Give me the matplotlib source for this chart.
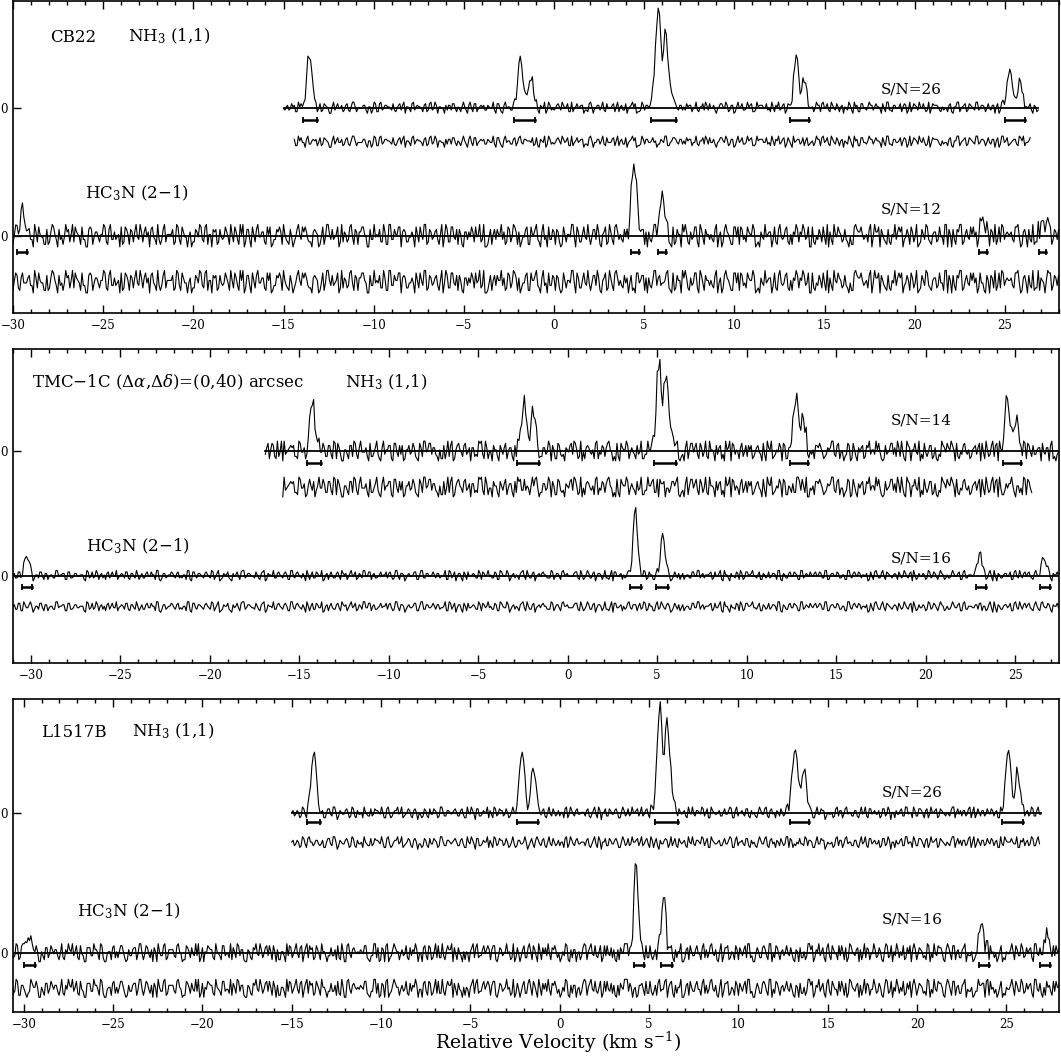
import numpy as np
import matplotlib.pyplot as plt
from matplotlib.ticker import MultipleLocator

plt.rcParams['font.family'] = ['DejaVu Serif']
plt.rcParams['mathtext.fontset'] = 'dejavuserif'

DV = 0.075   # channel width used for the traced spectra (km/s)

# ---------------- data ----------------
source_names = ['CB22', r'TMC$-$1C ($\Delta\alpha$,$\Delta\delta$)=(0,40) arcsec', 'L1517B']
nh3_name = r'NH$_3$ (1,1)'
hc3n_name = r'HC$_3$N (2$-$1)'
nh3_snr = [26, 14, 26]
hc3n_snr = [12, 16, 16]

# noise traces, hand traced: one digit per channel (0..9 around 4.5);
# "a" holds the even channels, "b" the odd ones.
# residual = spectrum minus fit, so it carries the same noise
cb22_nh3_noise_a = ("45376254183664275153742635824461537284653347615285"
                    "54627381546637245518274663543741853627465573264183"
                    "36584722546137546382447526315872366454135824763657"
                    "62435783461574636285345728664325684735146375242867"
                    "47263551483862745637514832647563275844317652346258"
                    "25736483654461738524638524715357426638483165427536")
cb22_nh3_noise_b = ("36452874635527364185463728544635182736547263854736"
                    "52738465413674528364725536481726453748365427158364"
                    "47365284756328146537462853746512836475364825746335"
                    "64825367434758261547386235647482536173856427354628"
                    "53847265361527438655472836452718463572846635427158"
                    "46275384627365184735627845362753481625734658236475")
cb22_hc3n_noise_a = ("57182644739254116837446298513077462581933582716649"
                     "28674133955728164402693815772446158399270574628813"
                     "66931427588326604195748225391668507344291937586624"
                     "48259173635092847716346852904177531829662481573094"
                     "83672155490628344791582619337641085766293745918250"
                     "66138294755294076318883265710495632744811576938024"
                     "72496158533018765429468731259660458291738256341970"
                     "37915488624170693285562841703929645817340853726619")
cb22_hc3n_noise_b = ("29571846306841729503197526483081645927364018572936"
                     "64083917255193840627482950617384926150738294615037"
                     "81527049366207518493350962847168403957261935807246"
                     "05839264719472831506682493017535962748104718592630"
                     "37160825948254917360619386524072847103596348201759"
                     "92648071533706295184174859026346081937256925740813"
                     "58103946272419683570960527143883716402593162849057"
                     "16927354084057218936538906472121509836748074391625")
tmc_nh3_noise_a = ("38571299466218405573946271883051793644282630957184"
                   "77153820694836251197058473662283914750561627983345"
                   "59026477183364895201745813669428065744139135728860"
                   "44771209586382915476105983462777264039513468152297"
                   "82045766135937142808266179535407483269196583014472"
                   "13968570247452638815397041669252188473604609235178")
tmc_nh3_noise_b = ("61829403577294618305482739160537281946024916357082"
                   "30574618295863017429175284063991640527384602738519"
                   "84263905172057381946631947285002859163741395820674"
                   "27590361848164295037396075184251473806925807146293"
                   "59031784266928403715047263598113586924070549382716"
                   "02746958138315760492728913465054917235683671049825")
tmc_hc3n_noise_a = ("46537284653574625384562736455174382656374255736482"
                    "63745281635746335827465374826135726547846435271658"
                    "37465283746155374826543726648526384753475764382615"
                    "45728364556348275163724553674853627481534682537466"
                    "53374628544672538361654328745237466538275284637145"
                    "64253748365573462851436827564372543658263647528457"
                    "47563826473528465735624753826455738461534628374562"
                    "53846273554672538146356527483764283754615736482545")
tmc_hc3n_noise_b = ("54637264815372645385627346452837465327548463726354"
                    "36475823645637452817364653748265314728365473682543"
                    "65372846534827364152736485264735847263545372846536"
                    "47258364736452837461574638265437285463652748361547"
                    "53826475644738256374628351746548362747352638465273"
                    "26453748535627481536472637584526374628153746283645"
                    "64738256463528374654172836475362546378264537462853"
                    "35647283546375264815364728356473652847365426374856")
l1517_nh3_noise_a = ("53628475364425738164653724584337645282564835627143"
                     "62475383655736425847345862746372543648154663728354"
                     "35728464556348265736472564385753648271466437255384"
                     "46583726453546728563724356482756354872344376528461"
                     "54273648536354827546374652463845837627456275346854"
                     "36485273645736248555426753836463457268475473628356")
l1517_nh3_noise_b = ("64537285463627485354728364253746582743685247365427"
                     "37462853646537284617365248376453826455372846354736"
                     "52846374537264815374652837456384726536472853746258"
                     "36475285463748263547365284736425738264574836254763"
                     "45386274536285374642738156473852637462857364538276"
                     "63728456374652836574825364738456273648352746583647")
l1517_hc3n_noise_a = ("47381622958051746634269538140773649205185582136749"
                      "18467053926629418573307586294184215936062793648815"
                      "61503749284987261533731290846556481392070926754381"
                      "35640817298235697140145972386668073541924382916057"
                      "79165423802641785933508832167493540671281673495802"
                      "50278364196493150782481562930727619484538340572196"
                      "06952738413572846019714635092859231786646218493750"
                      "94816270351367098542825491637347093258613596184207")
l1517_hc3n_noise_b = ("82916403755037284619146952830739618045722850637194"
                      "47205938166385017249920476153834972861051649273580"
                      "15398264707261849503368150927445820397168039516427"
                      "69047381522918604735507293648181364952070627583914"
                      "34782059166053917482823476015997051648233194807265"
                      "90615384722846093715167389204528390271654716025398"
                      "25370916488109537642649271583036582409175390248716"
                      "71852694303967814205014658392762947015388526149037")

# noise level of each trace
cb22_nh3_rms, cb22_hc3n_rms = 1.6, 2.5
tmc_nh3_rms, tmc_hc3n_rms = 2.2, 1.5
l1517_nh3_rms, l1517_hc3n_rms = 1.8, 2.0

# velocity extent of spectra and of residuals (km/s)
cb22_nh3_span, cb22_nh3_res = (-15.0, 26.85), (-14.45, 26.4)
cb22_hc3n_span, cb22_hc3n_res = (-30.3, 28.2), (-30.3, 28.2)
tmc_nh3_span, tmc_nh3_res = (-16.9, 27.8), (-15.95, 25.98)
tmc_hc3n_span, tmc_hc3n_res = (-31.3, 27.65), (-31.3, 27.65)
l1517_nh3_span, l1517_nh3_res = (-15.0, 26.95), (-15.0, 26.9)
l1517_hc3n_span, l1517_hc3n_res = (-30.8, 28.0), (-30.8, 28.0)

# line groups: (velocity of first channel, channel intensities)
cb22_nh3_lines = [(-13.95, [2, 6, 14, 28, 46, 52, 50, 34, 18, 8, 3]),
                  (-2.25, [2, 5, 12, 26, 40, 46, 44, 30, 16, 12, 12, 18, 26, 28, 27, 18, 9, 4, 2]),
                  (5.25, [1, 3, 8, 18, 34, 62, 88, 102, 96, 66, 46, 58, 73, 68, 55, 40, 24, 14, 7, 3, 1]),
                  (13.05, [2, 5, 12, 26, 42, 52, 46, 28, 16, 18, 26, 29, 24, 14, 6, 2, 1]),
                  (24.9, [2, 4, 10, 22, 36, 41, 34, 20, 10, 8, 12, 20, 24, 22, 15, 8, 4, 2, 1])]
cb22_hc3n_lines = [(-29.85, [2, 4, 8, 15, 22, 24, 20, 12, 6, 2, 1]),
                   (4.05, [3, 8, 20, 44, 68, 78, 72, 46, 22, 8, 3]),
                   (5.7, [3, 8, 18, 36, 46, 36, 18, 7, 2]),
                   (23.55, [4, 9, 16, 20, 20, 14, 8, 3, 1]),
                   (26.85, [3, 6, 10, 14, 16, 15, 12, 7, 4])]
tmc_nh3_lines = [(-14.65, [2, 5, 12, 26, 42, 49, 46, 32, 18, 8, 3]),
                 (-2.8, [2, 5, 14, 30, 44, 48, 40, 26, 16, 18, 28, 35, 33, 24, 14, 6, 3]),
                 (4.7, [3, 8, 20, 44, 72, 91, 84, 56, 42, 62, 80, 76, 62, 42, 25, 14, 8, 4, 2]),
                 (12.35, [2, 5, 14, 30, 46, 53, 48, 32, 20, 24, 30, 31, 24, 14, 7, 3, 1]),
                 (24.2, [3, 8, 20, 38, 52, 53, 36, 22, 14, 18, 28, 36, 35, 24, 14, 6, 3])]
tmc_hc3n_lines = [(-30.55, [2, 4, 8, 15, 20, 17, 12, 6, 3]),
                  (3.5, [5, 16, 40, 60, 66, 48, 24, 9, 3]),
                  (5.0, [2, 6, 16, 30, 40, 36, 22, 10, 4]),
                  (22.7, [2, 4, 9, 15, 19, 20, 14, 8, 4]),
                  (26.3, [2, 4, 8, 13, 16, 15, 10, 6, 3])]
l1517_nh3_lines = [(-14.1, [4, 12, 26, 46, 60, 62, 44, 26, 10, 4, 2]),
                   (-2.55, [2, 4, 10, 22, 40, 56, 62, 52, 32, 16, 10, 12, 20, 36, 46, 44, 30, 14, 6, 3, 1]),
                   (5.1, [2, 4, 8, 20, 44, 78, 104, 109, 90, 60, 56, 80, 93, 84, 60, 40, 24, 13, 7, 4, 2]),
                   (12.75, [3, 7, 16, 34, 52, 62, 66, 54, 36, 24, 26, 38, 44, 38, 26, 14, 6, 3, 1]),
                   (24.75, [3, 9, 22, 42, 58, 62, 52, 32, 16, 16, 26, 40, 43, 32, 18, 8, 4])]
l1517_hc3n_lines = [(-30.2, [2, 3, 6, 10, 16, 19, 20, 15, 8, 4, 2]),
                    (4.0, [6, 24, 60, 88, 96, 64, 30, 10, 4]),
                    (5.5, [3, 9, 22, 44, 56, 48, 30, 12, 5]),
                    (23.35, [4, 10, 18, 25, 24, 16, 10, 5, 3]),
                    (26.95, [3, 7, 12, 17, 18, 14, 10, 5, 3])]

# velocity windows marked under the lines
cb22_nh3_bars = [(-13.92, -13.13), (-2.23, -1.04), (5.40, 6.74), (13.07, 14.16), (24.98, 26.14)]
cb22_hc3n_bars = [(-29.8, -29.2), (4.26, 4.69), (5.76, 6.22), (23.58, 23.99), (26.9, 27.3)]
tmc_nh3_bars = [(-14.55, -13.8), (-2.83, -1.63), (4.8, 6.03), (12.4, 13.4), (24.3, 25.35)]
tmc_hc3n_bars = [(-30.5, -29.94), (3.46, 4.07), (4.94, 5.58), (22.82, 23.36), (26.39, 26.93)]
l1517_nh3_bars = [(-14.14, -13.41), (-2.39, -1.2), (5.34, 6.61), (12.86, 13.95), (24.77, 25.95)]
l1517_hc3n_bars = [(-29.97, -29.37), (4.13, 4.74), (5.69, 6.29), (23.45, 24.05), (26.9, 27.46)]


def merge(a, b):
    return ''.join(x + y for x, y in zip(a, b))


nh3_sets = [
    (cb22_nh3_span, cb22_nh3_res, merge(cb22_nh3_noise_a, cb22_nh3_noise_b),
     cb22_nh3_rms, cb22_nh3_lines, cb22_nh3_bars),
    (tmc_nh3_span, tmc_nh3_res, merge(tmc_nh3_noise_a, tmc_nh3_noise_b),
     tmc_nh3_rms, tmc_nh3_lines, tmc_nh3_bars),
    (l1517_nh3_span, l1517_nh3_res, merge(l1517_nh3_noise_a, l1517_nh3_noise_b),
     l1517_nh3_rms, l1517_nh3_lines, l1517_nh3_bars),
]
hc3n_sets = [
    (cb22_hc3n_span, cb22_hc3n_res, merge(cb22_hc3n_noise_a, cb22_hc3n_noise_b),
     cb22_hc3n_rms, cb22_hc3n_lines, cb22_hc3n_bars),
    (tmc_hc3n_span, tmc_hc3n_res, merge(tmc_hc3n_noise_a, tmc_hc3n_noise_b),
     tmc_hc3n_rms, tmc_hc3n_lines, tmc_hc3n_bars),
    (l1517_hc3n_span, l1517_hc3n_res, merge(l1517_hc3n_noise_a, l1517_hc3n_noise_b),
     l1517_hc3n_rms, l1517_hc3n_lines, l1517_hc3n_bars),
]

# ---------------- layout ----------------
W, H = 1061, 1057
ax_top = [1, 349, 699]
ax_bot = [313, 663, 1012]
xlims = [(-30.0, 28.0), (-31.0, 27.45), (-30.6, 27.94)]
ylims = [(-205.3, 106.7), (-212.0, 102.0), (-198.7, 114.3)]
# offsets: nh3 residual, hc3n baseline, hc3n residual
offsets = [(-34, -128, -174), (-36, -124.7, -156), (-29.7, -139.4, -175)]
bar_off = [(-12, -16), (-12.3, -11), (-9, -12.3)]
# text positions (axes fraction, baseline)
src_pos = [(0.0354, 0.8696), (0.0182, 0.878), (0.0264, 0.8796)]
nh3_pos = [(0.1097, 0.8696), (0.3172, 0.878), (0.1136, 0.8796)]
hc3n_pos = [(0.0688, 0.3676), (0.070, 0.3545), (0.0613, 0.3046)]
snr1_pos = [(0.8293, 0.7029), (0.839, 0.760), (0.8303, 0.688)]
snr2_pos = [(0.8293, 0.3196), (0.839, 0.3194), (0.8303, 0.2834)]


def build(span, noise, rms, lines):
    v0, v1 = span
    n = min(int(round((v1 - v0) / DV)) + 1, len(noise))
    v = v0 + DV * np.arange(n)
    resid = (np.array([int(c) for c in noise[:n]]) - 4.5) * rms
    spec = resid.copy()
    for start, prof in lines:
        i = int(round((start - v0) / DV))
        spec[i:i + len(prof)] += np.array(prof, dtype=float)
    return v, spec, resid


def draw(ax, data, base, rbase, boff):
    span, res, noise, rms, lines, bars = data
    v, spec, resid = build(span, noise, rms, lines)
    ax.plot(v, spec + base, color='k', lw=0.8)
    ax.plot([v[0], v[-1]], [base, base], color='k', lw=1.3)
    m = (v >= res[0] - 1e-6) & (v <= res[1] + 1e-6)
    ax.plot(v[m], resid[m] + rbase, color='k', lw=0.8)
    for a, b in bars:
        ax.plot([a, b], [base + boff] * 2, color='k', lw=1.8,
                marker='|', ms=5, mew=1.3)


fig = plt.figure(figsize=(W / 100, H / 100), dpi=100)
for k in range(3):
    ax = fig.add_axes([13 / W, 1 - ax_bot[k] / H, 1046 / W, (ax_bot[k] - ax_top[k]) / H])
    r_nh3, b_hc3n, r_hc3n = offsets[k]
    draw(ax, nh3_sets[k], 0, r_nh3, bar_off[k][0])
    draw(ax, hc3n_sets[k], b_hc3n, r_hc3n, bar_off[k][1])
    ax.set_xlim(*xlims[k])
    ax.set_ylim(*ylims[k])
    ax.xaxis.set_major_locator(MultipleLocator(5))
    ax.xaxis.set_minor_locator(MultipleLocator(1))
    ax.set_yticks([0, b_hc3n])
    ax.set_yticklabels(['0', '0'])
    ax.tick_params(axis='x', which='both', direction='in', top=True, labelsize=8.5, pad=4, width=1)
    ax.tick_params(axis='x', which='major', length=6)
    ax.tick_params(axis='x', which='minor', length=3)
    ax.tick_params(axis='y', direction='in', length=6, width=1, labelsize=8.5, pad=3.5)
    for s in ax.spines.values():
        s.set_linewidth(1.2)
    tf = ax.transAxes
    ax.text(*src_pos[k], source_names[k], transform=tf, fontsize=12, va='baseline')
    ax.text(*nh3_pos[k], nh3_name, transform=tf, fontsize=12, va='baseline')
    ax.text(*hc3n_pos[k], hc3n_name, transform=tf, fontsize=12, va='baseline')
    ax.text(*snr1_pos[k], f'S/N={nh3_snr[k]}', transform=tf, fontsize=11, va='baseline')
    ax.text(*snr2_pos[k], f'S/N={hc3n_snr[k]}', transform=tf, fontsize=11, va='baseline')

fig.text(435 / W, 1 - 1055 / H, r'Relative Velocity (km s$^{-1}$)', fontsize=13.5,
         ha='left', va='bottom')

fig.savefig('out.png', dpi=100)
